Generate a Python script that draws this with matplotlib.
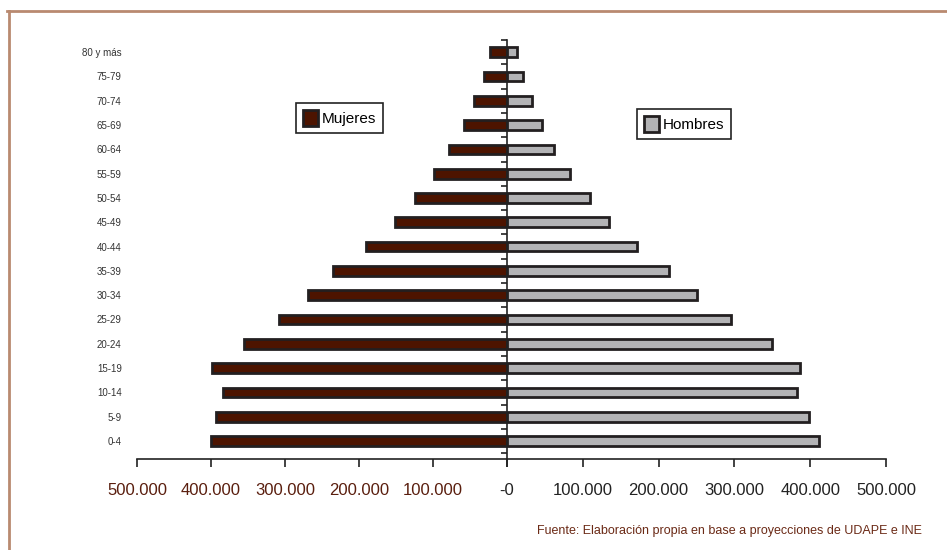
import matplotlib
matplotlib.use("Agg")
import matplotlib.pyplot as plt
from matplotlib.patches import Patch
from matplotlib.lines import Line2D
import numpy as np

# grupos de edad (de abajo hacia arriba)
grupos = ["0-4", "5-9", "10-14", "15-19", "20-24", "25-29", "30-34", "35-39",
          "40-44", "45-49", "50-54", "55-59", "60-64", "65-69", "70-74",
          "75-79", "80 y más"]
mujeres = [400000, 393000, 384000, 398000, 356000, 308000, 269000, 235000,
           190000, 152000, 125000, 98000, 78000, 58000, 44500, 31000, 23000]
hombres = [411000, 399000, 382000, 387000, 350000, 296000, 251000, 214000,
           172000, 135000, 109000, 83000, 62500, 46000, 33000, 21000, 13500]

ticks_x = [0, 100000, 200000, 300000, 400000, 500000]
etiquetas_x = ["0", "100.000", "200.000", "300.000", "400.000", "500.000"]

c_muj = "#4d1400"
c_hom = "#b3b3b5"
c_borde = "#231f20"
c_cafe = "#5a1e0e"

plt.rcParams['font.family'] = ['Liberation Sans', 'DejaVu Sans']

W, H = 947, 550
fig = plt.figure(figsize=(W / 100, H / 100), dpi=100)

y0 = (H - 459) / H
alto = 419 / H
ax_l = fig.add_axes([137 / W, y0, 370 / W, alto])
ax_r = fig.add_axes([507 / W, y0, 379 / W, alto])

idx = np.arange(len(grupos))
ax_l.barh(idx, mujeres, height=0.40, color=c_muj, edgecolor=c_borde, linewidth=2.0)
ax_r.barh(idx, hombres, height=0.40, color=c_hom, edgecolor=c_borde, linewidth=2.0)

for ax in (ax_l, ax_r):
    ax.set_xlim(0, 500000)
    ax.set_ylim(-0.74, 16.5)
    for s in ("top", "left", "right"):
        ax.spines[s].set_visible(False)
    ax.spines["bottom"].set_color("#222222")
    ax.spines["bottom"].set_linewidth(1.2)
    ax.set_xticks(ticks_x)
    ax.tick_params(axis="x", length=6, width=1.2, color="#222222", pad=11,
                   labelsize=12)

ax_l.invert_xaxis()
ax_l.set_xticklabels(["-0"] + etiquetas_x[1:])
for i, t in enumerate(ax_l.get_xticklabels()):
    t.set_color("#222222" if i == 0 else c_cafe)
ax_r.set_xticklabels([""] + etiquetas_x[1:], color="#222222")

# etiquetas de edad
ax_l.set_yticks(idx)
ax_l.set_yticklabels(grupos, fontsize=7, color="#333333")
ax_l.tick_params(axis="y", length=0, pad=11)

# linea central con marcas entre grupos
ax_r.spines["left"].set_visible(True)
ax_r.spines["left"].set_color("#222222")
ax_r.spines["left"].set_linewidth(1.2)
ax_r.set_yticks([])
ax_r.set_yticks(np.arange(-0.5, 17, 1.0), minor=True)
ax_r.tick_params(axis="y", which="minor", length=4, width=1.2, color="#222222",
                 direction="out")

# leyendas
kw = dict(loc="upper left", frameon=True, fancybox=False, framealpha=1,
          edgecolor="#222222", borderaxespad=0, handlelength=1.0,
          handleheight=1.2, handletextpad=0.25, borderpad=0.45,
          prop={"size": 11})
leg1 = fig.legend([Patch(facecolor=c_muj, edgecolor=c_borde, linewidth=2)],
                  ["Mujeres"], bbox_to_anchor=(296 / W, 1 - 103 / H), **kw)
leg1.get_frame().set_linewidth(1.2)
leg2 = fig.legend([Patch(facecolor=c_hom, edgecolor=c_borde, linewidth=2)],
                  ["Hombres"], bbox_to_anchor=(637 / W, 1 - 109 / H), **kw)
leg2.get_frame().set_linewidth(1.2)

# marco
marco = "#b98a70"
fig.add_artist(Line2D([7 / W, 1], [1 - 11 / H, 1 - 11 / H], color=marco, lw=2))
fig.add_artist(Line2D([9 / W, 9 / W], [0, 1 - 11 / H], color=marco, lw=2))

fig.text(922 / W, 1 - 531 / H,
         "Fuente: Elaboración propia en base a proyecciones de UDAPE e INE",
         ha="right", va="center", fontsize=9, color="#6b2a16")

fig.savefig("out.png", dpi=100)
